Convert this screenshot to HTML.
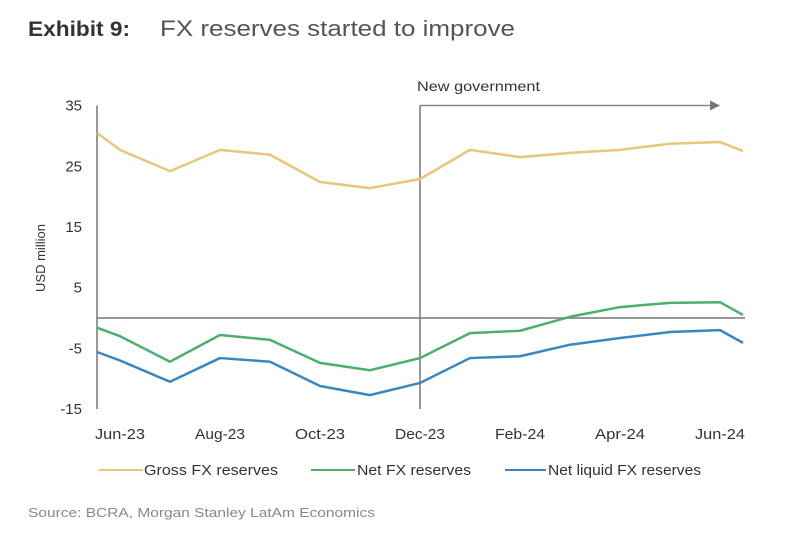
<!DOCTYPE html>
<html><head><meta charset="utf-8"><style>
body{margin:0;background:#fff;width:800px;height:548px;overflow:hidden;font-family:"Liberation Sans",sans-serif}
svg{position:absolute;left:0;top:0}
</style></head><body>
<svg id="c" width="800" height="548">
<text x="28" y="36" font-size="21" font-weight="bold" fill="#333" textLength="102" lengthAdjust="spacingAndGlyphs">Exhibit 9:</text>
<text x="160" y="36" font-size="22" fill="#555" textLength="355" lengthAdjust="spacingAndGlyphs">FX reserves started to improve</text>
<text transform="translate(45,258) rotate(-90)" text-anchor="middle" font-size="13" fill="#333">USD million</text>
<g id="ticks"></g>
<g id="series"></g>
<text x="417" y="91" font-size="14" fill="#333" textLength="123" lengthAdjust="spacingAndGlyphs">New government</text>
<text x="28" y="517" font-size="13" fill="#888" textLength="347" lengthAdjust="spacingAndGlyphs">Source: BCRA, Morgan Stanley LatAm Economics</text>
<g>
<line x1="99" y1="470" x2="143" y2="470" stroke="#e8c77a" stroke-width="2"/>
<text x="144" y="475" font-size="15" fill="#333" textLength="134" lengthAdjust="spacingAndGlyphs">Gross FX reserves</text>
<line x1="311" y1="470" x2="355" y2="470" stroke="#4caf6e" stroke-width="2"/>
<text x="357" y="475" font-size="15" fill="#333" textLength="114" lengthAdjust="spacingAndGlyphs">Net FX reserves</text>
<line x1="505" y1="470" x2="546" y2="470" stroke="#3a87c0" stroke-width="2"/>
<text x="548" y="475" font-size="15" fill="#333" textLength="153" lengthAdjust="spacingAndGlyphs">Net liquid FX reserves</text>
</g>
</svg>
<script>
const xIdx=[-0.46,0,1,2,3,4,5,6,7,8,9,10,11,12,12.46];
const gross=[30.5,27.7,24.2,27.7,26.9,22.4,21.4,22.9,27.7,26.5,27.2,27.7,28.7,29.0,27.5];
const netFx=[-1.6,-3.0,-7.2,-2.8,-3.6,-7.4,-8.6,-6.6,-2.5,-2.1,0.2,1.8,2.5,2.6,0.5];
const netLiquid=[-5.6,-7.0,-10.5,-6.6,-7.2,-11.2,-12.7,-10.7,-6.6,-6.3,-4.4,-3.3,-2.3,-2.0,-4.1];
const yTicks=[35,25,15,5,-5,-15];
const xLabels=["Jun-23","Aug-23","Oct-23","Dec-23","Feb-24","Apr-24","Jun-24"];
const xLabelIdx=[0,2,4,6,8,10,12];
const govIdx=6;
const NS="http://www.w3.org/2000/svg";
const X=i=>120+50*i, Y=v=>318-v*6.07;
const svg=document.getElementById('c'),tk=document.getElementById('ticks'),sr=document.getElementById('series');
function mk(t,a,p){const e=document.createElementNS(NS,t);for(const k in a)e.setAttribute(k,a[k]);(p||svg).appendChild(e);return e;}
const ax=mk('line',{x1:X(-0.46),y1:Y(35),x2:X(-0.46),y2:Y(-15),stroke:'#777','stroke-width':1.5},tk);


const zl=mk('line',{x1:X(-0.46),y1:Y(0),x2:X(12.5),y2:Y(0),stroke:'#777','stroke-width':1.5},tk);


yTicks.forEach(v=>{const t=mk('text',{x:82,y:Y(v)+5,'text-anchor':'end','font-size':15,fill:'#333'},tk);t.textContent=v;

});
xLabels.forEach((l,j)=>{const t=mk('text',{x:X(xLabelIdx[j]),y:439,'text-anchor':'middle','font-size':15,fill:'#333',textLength:50,lengthAdjust:'spacingAndGlyphs'},tk);t.textContent=l;

});
const gv=mk('line',{x1:X(govIdx),y1:Y(35),x2:X(govIdx),y2:Y(-15),stroke:'#777','stroke-width':1.5},tk);


const ga=mk('line',{x1:X(govIdx),y1:Y(35),x2:X(11.8),y2:Y(35),stroke:'#888','stroke-width':1.5},tk);


const gh=mk('polygon',{points:`${X(11.8)},${Y(35)-5} ${X(11.8)+10},${Y(35)} ${X(11.8)},${Y(35)+5}`,fill:'#777'},tk);


[[gross,'#e8c77a','gross-fx-line'],[netFx,'#4caf6e','net-fx-line'],[netLiquid,'#3a87c0','net-liquid-fx-line']].forEach(([d,c,n])=>{
const p=mk('polyline',{points:d.map((v,i)=>X(xIdx[i])+','+Y(v)).join(' '),fill:'none',stroke:c,'stroke-width':2.5,'stroke-linejoin':'round'},sr);

});
</script>
</body></html>
